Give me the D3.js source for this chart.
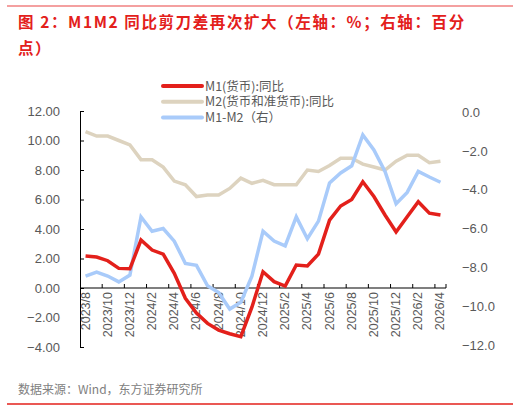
<!DOCTYPE html>
<html><head><meta charset="utf-8">
<script src="https://cdn.jsdelivr.net/npm/d3@7"></script>
<style>body{margin:0;background:#fff}svg{display:block;font-family:"Noto Sans CJK SC","Liberation Sans",sans-serif}</style>
</head><body><svg id="c" width="523" height="410"></svg>
<script>
const months = ["2023/8","2023/9","2023/10","2023/11","2023/12","2024/1","2024/2","2024/3","2024/4","2024/5","2024/6","2024/7","2024/8","2024/9","2024/10","2024/11","2024/12","2025/1","2025/2","2025/3","2025/4","2025/5","2025/6","2025/7","2025/8","2025/9","2025/10","2025/11","2025/12","2026/1","2026/2","2026/3","2026/4"];
const m1 = [2.17,2.1,1.85,1.33,1.3,3.25,2.57,2.3,1.0,-0.7,-1.7,-2.4,-2.85,-3.1,-3.3,-1.3,1.1,0.43,0.13,1.56,1.5,2.3,4.6,5.56,6.0,7.2,6.2,4.95,3.8,4.83,5.85,5.07,4.95];
const m2 = [10.6,10.3,10.3,10.0,9.7,8.7,8.7,8.2,7.25,7.0,6.2,6.3,6.3,6.75,7.45,7.1,7.3,7.0,7.0,7.0,8.0,7.9,8.3,8.8,8.8,8.4,8.2,8.0,8.6,9.0,9.0,8.5,8.6];
const diff = [-8.45,-8.24,-8.45,-8.75,-8.4,-5.4,-6.14,-6.0,-6.65,-7.8,-7.9,-8.95,-9.3,-10.15,-9.8,-8.45,-6.14,-6.65,-6.9,-5.4,-6.53,-5.62,-3.66,-3.14,-2.77,-1.18,-1.95,-3.06,-4.72,-4.14,-3.06,-3.35,-3.62];
const leftTicks = [12,10,8,6,4,2,0,-2,-4];
const rightTicks = [0,-2,-4,-6,-8,-10,-12];
const tickLabels = months.filter((d,i)=>i%2===0);

const svg = d3.select("#c");
const red="#e3201b", beige="#ddd3bf", blue="#a9cbfa", grey="#595959";
svg.append("line").attr("x1",7).attr("x2",513).attr("y1",6).attr("y2",6).attr("stroke","#f08080").attr("stroke-width",1.5);
svg.append("text").attr("x",18).attr("y",28).attr("fill",red).attr("font-size",15.5).attr("font-weight","bold").attr("letter-spacing",1.6)
  .text("图 2：M1M2 同比剪刀差再次扩大（左轴：%；右轴：百分");
svg.append("text").attr("x",18).attr("y",54).attr("fill",red).attr("font-size",15.5).attr("font-weight","bold").attr("letter-spacing",1.6).text("点）");

const x = d3.scaleBand().domain(months).range([80,446]);
const yL = d3.scaleLinear().domain([-4,12]).range([347,111]);
const yR = d3.scaleLinear().domain([-12,0]).range([345,112]);

const la = svg.append("g").attr("transform","translate(80,0)").call(d3.axisLeft(yL).tickValues(leftTicks).tickFormat(d3.format(".2f")).tickSize(-4).tickSizeOuter(0));
la.select(".domain").attr("stroke","#000");
la.selectAll(".tick line").attr("stroke","#000");
la.selectAll("text").attr("x",-20).attr("fill",grey).attr("font-size",13).attr("font-family","Liberation Sans, sans-serif");
const ra = svg.append("g").attr("transform","translate(446,0)").call(d3.axisRight(yR).tickValues(rightTicks).tickFormat(d3.format(".1f")).tickSize(0));
ra.select(".domain").remove();
ra.selectAll("text").attr("x",16).attr("fill",grey).attr("font-size",13).attr("font-family","Liberation Sans, sans-serif");

const bw = x.bandwidth();
const xa = svg.append("g").attr("transform",`translate(0,${yL(0)})`);
xa.append("line").attr("x1",80).attr("x2",446).attr("stroke","#000").attr("stroke-width",1.2);
months.forEach((m,i)=>{ if(i%2===0 && i>0) xa.append("line").attr("x1",x(m)).attr("x2",x(m)).attr("y1",0).attr("y2",-4).attr("stroke","#000"); });
xa.append("line").attr("x1",446).attr("x2",446).attr("y1",0).attr("y2",-4).attr("stroke","#000");
tickLabels.forEach(m=>{
  xa.append("text").attr("transform",`translate(${x(m)+bw/2+4},4) rotate(-90)`).attr("text-anchor","end")
    .attr("fill",grey).attr("font-size",12.5).attr("font-family","Liberation Sans, sans-serif").text(m);
});

const cx = d => x(d)+bw/2;
const lineL = d3.line().x((d,i)=>cx(months[i])).y(d=>yL(d));
const lineR = d3.line().x((d,i)=>cx(months[i])).y(d=>yR(d));
svg.append("path").attr("d",lineL(m2)).attr("fill","none").attr("stroke",beige).attr("stroke-width",3.5);
svg.append("path").attr("d",lineR(diff)).attr("fill","none").attr("stroke",blue).attr("stroke-width",3.5);
svg.append("path").attr("d",lineL(m1)).attr("fill","none").attr("stroke",red).attr("stroke-width",3.5);

const leg = [["M1(货币):同比",red],["M2(货币和准货币):同比",beige],["M1-M2（右）",blue]];
leg.forEach((d,i)=>{
  const yy = 86+i*15.8;
  svg.append("line").attr("x1",163).attr("x2",202).attr("y1",yy).attr("y2",yy).attr("stroke",d[1]).attr("stroke-width",4).attr("stroke-linecap","round");
  svg.append("text").attr("x",205).attr("y",yy+4.5).attr("fill",grey).attr("font-size",12.5).text(d[0]);
});

svg.append("text").attr("x",18).attr("y",394).attr("fill","#808080").attr("font-size",12).text("数据来源：Wind，东方证券研究所");
svg.append("line").attr("x1",7).attr("x2",513).attr("y1",404).attr("y2",404).attr("stroke",red).attr("stroke-width",1.5);
</script></body></html>
